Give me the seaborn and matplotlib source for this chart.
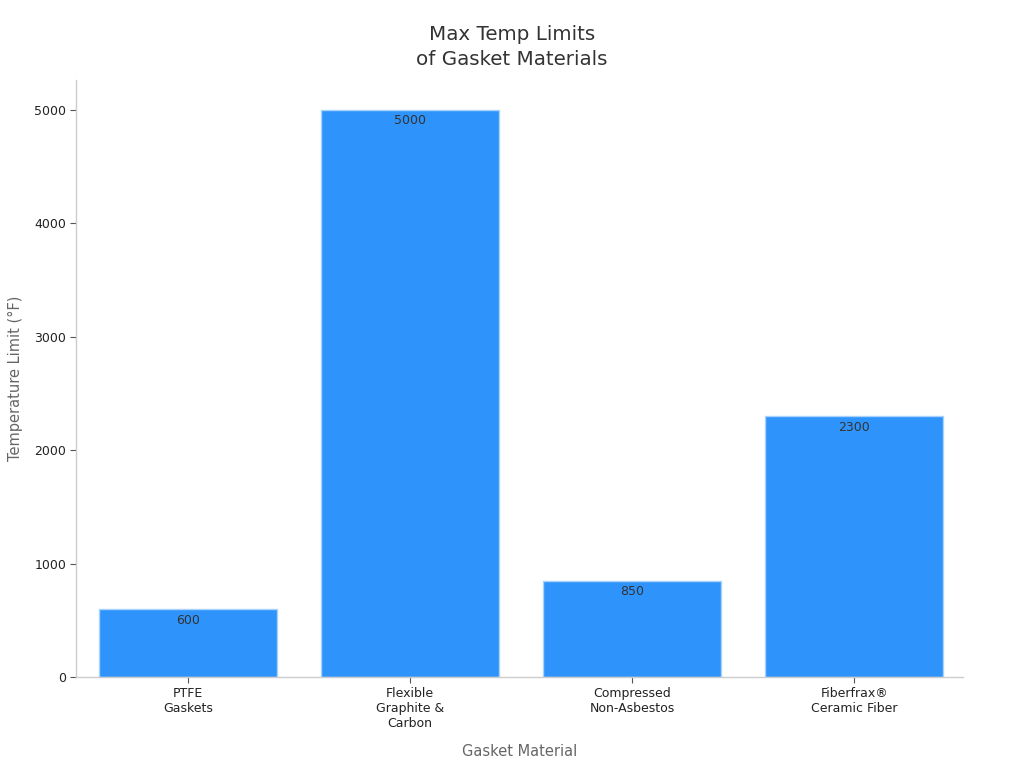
import matplotlib
matplotlib.use("Agg")
import matplotlib.pyplot as plt
import seaborn as sns
import pandas as pd

categories = ["PTFE\nGaskets", "Flexible\nGraphite &\nCarbon", "Compressed\nNon-Asbestos", "Fiberfrax®\nCeramic Fiber"]
values = [600, 5000, 850, 2300]

sns.set_theme(style="white")
plt.rcParams['font.family'] = ['DejaVu Sans']
plt.rcParams['xtick.bottom'] = True
plt.rcParams['ytick.left'] = True

df = pd.DataFrame({"Material": categories, "Temp": values})

fig = plt.figure(figsize=(10.24, 7.68), dpi=100)
ax = fig.add_axes([0.0742, 0.1185, 0.8662, 0.7773])

sns.barplot(data=df, x="Material", y="Temp", color="#2E93FA", saturation=1,
            width=0.8, edgecolor="#A9D3FB", linewidth=1, ax=ax)

for i, v in enumerate(values):
    ax.annotate(str(v), (i, v), xytext=(0, -3.5), textcoords="offset points",
                ha="center", va="top", fontsize=9, color="#333333")

ax.set_ylim(0, 5260)
ax.set_xlim(-0.505, 3.49)
ax.set_yticks([0, 1000, 2000, 3000, 4000, 5000])
ax.tick_params(axis="both", labelsize=9, labelcolor="#222222", length=4, width=0.8,
               color="#555555", pad=3)
for s in ["top", "right"]:
    ax.spines[s].set_visible(False)
for s in ["left", "bottom"]:
    ax.spines[s].set_color("#CCCCCC")
    ax.spines[s].set_linewidth(1)

ax.set_xlabel("Gasket Material", fontsize=10.5, color="#666666", labelpad=10)
ax.set_ylabel("Temperature Limit (°F)", fontsize=10.5, color="#666666", labelpad=8)
fig.suptitle("Max Temp Limits\nof Gasket Materials", fontsize=14.3, color="#333333", y=0.968,
             linespacing=1.45)

fig.savefig("out.png", dpi=100)
